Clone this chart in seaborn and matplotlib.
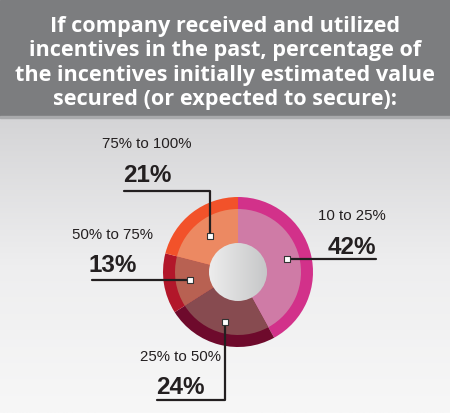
import numpy as np
import matplotlib
matplotlib.use("Agg")
import matplotlib.pyplot as plt
import seaborn as sns
from matplotlib.patches import Rectangle, Circle

# data
categories = ["10 to 25%", "25% to 50%", "50% to 75%", "75% to 100%"]
values = [42, 24, 13, 21]
pct_labels = ["42%", "24%", "13%", "21%"]

outer_colors = ["#D2318A", "#6E0A2C", "#B2172A", "#F2522A"]
inner_colors = ["#CF7BA6", "#874B50", "#B86152", "#EC8962"]

title = ("If company received and utilized\nincentives in the past, percentage of\n"
         "the incentives initially estimated value\nsecured (or expected to secure):")

sns.set_theme(style="white")
plt.rcParams["font.family"] = ["Liberation Sans Narrow", "Liberation Sans", "DejaVu Sans"]

W, H = 450, 413
fig = plt.figure(figsize=(4.5, 4.13), dpi=100)
ax = fig.add_axes([0, 0, 1, 1])

# background gradient + header band
grad = np.linspace(0, 1, 256).reshape(-1, 1)
ax.imshow(grad, extent=(0, W, 0, H - 116), origin="lower",
          cmap=matplotlib.colors.LinearSegmentedColormap.from_list(
              "bg", ["#F7F7F7", "#EEEEEF", "#D4D4D6"]), aspect="auto", zorder=0)
ax.add_patch(Rectangle((0, H - 116), W, 116, color="#7C7D7F", zorder=1))
ax.add_patch(Rectangle((0, H - 118), W, 2, color="#A9AAAC", zorder=1))
ax.text(225, H - 63, title, ha="center", va="center", color="white",
        fontsize=15.6, fontweight="bold", family=["Open Sans", "DejaVu Sans"],
        linespacing=1.2, zorder=2)

# donut
cx, cy = 238, H - 272
ax.pie(values, colors=outer_colors, radius=75, center=(cx, cy), startangle=90,
       counterclock=False, wedgeprops=dict(linewidth=0), normalize=True)
ax.pie(values, colors=inner_colors, radius=63, center=(cx, cy), startangle=90,
       counterclock=False, wedgeprops=dict(linewidth=0), normalize=True)

# centre circle with grey gradient
hole = Circle((cx, cy), 29, transform=ax.transData)
hgrad = np.linspace(0, 1, 256).reshape(1, -1)
im = ax.imshow(hgrad, extent=(cx - 29, cx + 29, cy - 29, cy + 29),
               cmap=matplotlib.colors.LinearSegmentedColormap.from_list("hole", ["#EDEDED", "#C6C7C8"]),
               aspect="auto", zorder=5)
im.set_clip_path(hole)

# leader lines and labels
frac = np.array(values) / sum(values)
mid = 90 - (np.cumsum(frac) - frac / 2) * 360
mr = [51, 52, 49, 46]
mx = cx + np.array(mr) * np.cos(np.radians(mid))
my = cy + np.array(mr) * np.sin(np.radians(mid))

lc = "#231F20"
lw = 1.6
# 10 to 25%
ax.plot([mx[0], 376], [my[0], my[0]], color=lc, lw=lw, zorder=6)
# 25% to 50%
ax.plot([mx[1], mx[1], 157], [my[1], H - 400, H - 400], color=lc, lw=lw, zorder=6)
# 50% to 75%
ax.plot([mx[2], 92], [my[2], my[2]], color=lc, lw=lw, zorder=6)
# 75% to 100%
ax.plot([mx[3], mx[3], 124], [my[3], H - 191, H - 191], color=lc, lw=lw, zorder=6)
ax.scatter(mx, my, marker="s", s=22, facecolor="white", edgecolor="#333333",
           linewidth=0.8, zorder=7)

label_pos = [(352, 216, 247), (180, 357, 387), (113, 235, 265), (147, 144, 175)]
for cat, pct, (x, y1, y2) in zip(categories, pct_labels, label_pos):
    ax.text(x, H - y1, cat, ha="center", va="center", fontsize=10.8, color=lc, zorder=8)
    ax.text(x, H - y2, pct, ha="center", va="center", fontsize=17.5,
            fontweight="bold", color=lc, zorder=8)

ax.set_xlim(0, W)
ax.set_ylim(0, H)
ax.set_aspect("auto")
ax.set_axis_off()

fig.savefig("out.png", dpi=100)
